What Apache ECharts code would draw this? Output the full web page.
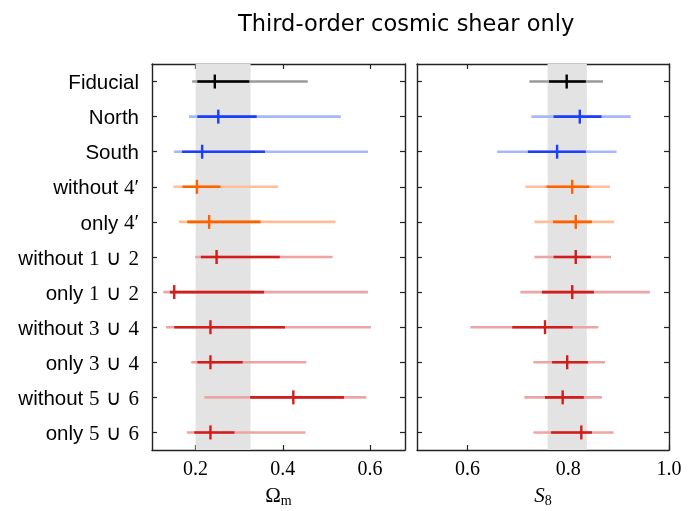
<!DOCTYPE html>
<html>
<head>
<meta charset="utf-8">
<script src="https://cdn.jsdelivr.net/npm/echarts@6/dist/echarts.min.js"></script>
<style>
  html, body { margin: 0; background: #fff; }
  #chart { width: 688px; height: 511px; }
</style>
</head>
<body>
<div id="chart"></div>
<script>
// rows, top to bottom
const categories = ['Fiducial', 'North', 'South', 'without 4′', 'only 4′', 'without 1 ∪ 2',
  'only 1 ∪ 2', 'without 3 ∪ 4', 'only 3 ∪ 4', 'without 5 ∪ 6', 'only 5 ∪ 6'];
const rowGroup = ['k', 'b', 'b', 'o', 'o', 'r', 'r', 'r', 'r', 'r', 'r'];

// Omega_m : best value, 68% and 95% intervals
const omBest = [0.244, 0.252, 0.215, 0.203, 0.231, 0.248, 0.151, 0.234, 0.234, 0.424, 0.234];
const om68 = [[0.204, 0.323], [0.204, 0.340], [0.169, 0.359], [0.170, 0.257], [0.181, 0.349],
  [0.212, 0.393], [0.141, 0.357], [0.151, 0.405], [0.204, 0.308], [0.325, 0.540], [0.197, 0.289]];
const om95 = [[0.192, 0.457], [0.185, 0.533], [0.150, 0.595], [0.149, 0.389], [0.162, 0.521],
  [0.199, 0.514], [0.126, 0.595], [0.132, 0.602], [0.190, 0.454], [0.220, 0.591], [0.180, 0.452]];
const omBand = [0.2, 0.326];

// S8
const s8Best = [0.797, 0.823, 0.778, 0.808, 0.815, 0.815, 0.808, 0.754, 0.798, 0.789, 0.826];
const s868 = [[0.762, 0.835], [0.771, 0.866], [0.720, 0.835], [0.757, 0.842], [0.770, 0.847],
  [0.771, 0.845], [0.748, 0.851], [0.689, 0.809], [0.768, 0.839], [0.754, 0.831], [0.766, 0.847]];
const s895 = [[0.723, 0.869], [0.727, 0.924], [0.659, 0.896], [0.715, 0.883], [0.733, 0.891],
  [0.733, 0.885], [0.705, 0.962], [0.606, 0.860], [0.731, 0.873], [0.713, 0.867], [0.731, 0.890]];
const s8Band = [0.759, 0.837];

const omTicks = [0.2, 0.4, 0.6];
const s8Ticks = [0.6, 0.8, 1.0];

// dark / light colours per group
const palette = {
  k: ['#000000', '#9a9a9a'],
  b: ['#1d3ff5', '#a6b7fd'],
  o: ['#ff6000', '#ffbe9a'],
  r: ['#cf1e1e', '#eaa5a5']
};

const chart = echarts.init(document.getElementById('chart'));

const sans = 'Liberation Sans';
const serif = 'Liberation Serif';
const frame = { show: true, lineStyle: { color: '#222', width: 1.4 } };
const tick = { show: true, inside: true, length: 5, lineStyle: { color: '#222', width: 1.2 } };

// horizontal interval line
const rangeItem = (shade, width) => (params, api) => {
  const idx = api.value(2);
  const p1 = api.coord([api.value(0), idx]);
  const p2 = api.coord([api.value(1), idx]);
  return {
    type: 'line',
    shape: { x1: p1[0], y1: p1[1], x2: p2[0], y2: p2[1] },
    style: { stroke: palette[rowGroup[idx]][shade], lineWidth: width }
  };
};
// vertical stroke of the + marker
const bestItem = (params, api) => {
  const idx = api.value(1);
  const p = api.coord([api.value(0), idx]);
  return {
    type: 'line',
    shape: { x1: p[0], y1: p[1] - 7, x2: p[0], y2: p[1] + 7 },
    style: { stroke: palette[rowGroup[idx]][0], lineWidth: 2.4 }
  };
};

const makeSeries = (g, best, r68, r95, band) => [
  {
    type: 'custom', xAxisIndex: g * 2, yAxisIndex: g * 2, z: 1, silent: true,
    renderItem: () => null, data: [],
    markArea: {
      silent: true, itemStyle: { color: '#e3e3e3' },
      data: [[{ xAxis: band[0] }, { xAxis: band[1] }]]
    }
  },
  {
    type: 'custom', xAxisIndex: g * 2, yAxisIndex: g * 2, z: 3, silent: true,
    renderItem: rangeItem(1, 2.6), encode: { x: [0, 1], y: 2 },
    data: r95.map((d, i) => [d[0], d[1], i])
  },
  {
    type: 'custom', xAxisIndex: g * 2, yAxisIndex: g * 2, z: 4, silent: true,
    renderItem: rangeItem(0, 2.6), encode: { x: [0, 1], y: 2 },
    data: r68.map((d, i) => [d[0], d[1], i])
  },
  {
    type: 'custom', xAxisIndex: g * 2, yAxisIndex: g * 2, z: 5, silent: true,
    renderItem: bestItem, encode: { x: 0, y: 1 },
    data: best.map((v, i) => [v, i])
  }
];

const xPair = (g, min, max, ticks, name) => [
  {
    gridIndex: g, type: 'value', min: min, max: max, position: 'bottom',
    axisLine: frame, splitLine: { show: false },
    axisTick: Object.assign({ customValues: ticks }, tick),
    axisLabel: {
      customValues: ticks, formatter: v => v.toFixed(1), margin: 10,
      fontFamily: serif, fontSize: 20, color: '#000'
    },
    name: name, nameLocation: 'middle', nameGap: 34,
    nameTextStyle: {
      color: '#000',
      rich: {
        o: { fontFamily: serif, fontSize: 21, color: '#000' },
        i: { fontFamily: serif, fontStyle: 'italic', fontSize: 21, color: '#000' },
        s: { fontFamily: serif, fontSize: 14, color: '#000', padding: [10, 0, 0, 0] }
      }
    }
  },
  {
    gridIndex: g, type: 'value', min: min, max: max, position: 'top',
    axisLine: frame, splitLine: { show: false },
    axisTick: Object.assign({ customValues: ticks }, tick),
    axisLabel: { show: false }
  }
];

// words in sans, the math part (4′, 1 ∪ 2 ...) in serif with a bit more operator spacing
const fmtLabel = t => t.replace(/^(\S+)( (.+))?$/, (m, w, r, math) =>
  '{w|' + w + '}' + (math ? '{w| }{m|' + math.replace(' ∪ ', ' \u200A∪\u200A ') + '}' : ''));

const yPair = (g, labels) => [
  {
    gridIndex: g, type: 'category', data: categories, inverse: true, position: 'left',
    axisLine: frame, splitLine: { show: false },
    axisTick: Object.assign({ alignWithLabel: true }, tick),
    axisLabel: {
      show: labels, margin: 13, color: '#000',
      formatter: fmtLabel,
      rich: {
        w: { fontFamily: sans, fontSize: 20.5, color: '#000' },
        m: { fontFamily: serif, fontSize: 21, color: '#000' }
      },
      padding: [4, 0, 0, 0]
    }
  },
  {
    gridIndex: g, type: 'category', data: categories, inverse: true, position: 'right',
    axisLine: frame, splitLine: { show: false },
    axisTick: Object.assign({ alignWithLabel: true }, tick),
    axisLabel: { show: false }
  }
];

chart.setOption({
  animation: false,
  title: {
    text: 'Third-order cosmic shear only',
    left: 233, top: 9,
    textStyle: { fontFamily: 'DejaVu Sans', fontWeight: 'normal', fontSize: 22.5, color: '#000' }
  },
  grid: [
    { left: 152, top: 64, width: 253, height: 386, containLabel: false, outerBoundsMode: 'none' },
    { left: 417, top: 64, width: 252, height: 386, containLabel: false, outerBoundsMode: 'none' }
  ],
  xAxis: [
    ...xPair(0, 0.1, 0.68, omTicks, '{o|Ω}{s|m}'),
    ...xPair(1, 0.5, 1.0, s8Ticks, '{i|S}{s|8}')
  ],
  yAxis: [...yPair(0, true), ...yPair(1, false)],
  series: [
    ...makeSeries(0, omBest, om68, om95, omBand),
    ...makeSeries(1, s8Best, s868, s895, s8Band)
  ]
});
</script>
</body>
</html>
